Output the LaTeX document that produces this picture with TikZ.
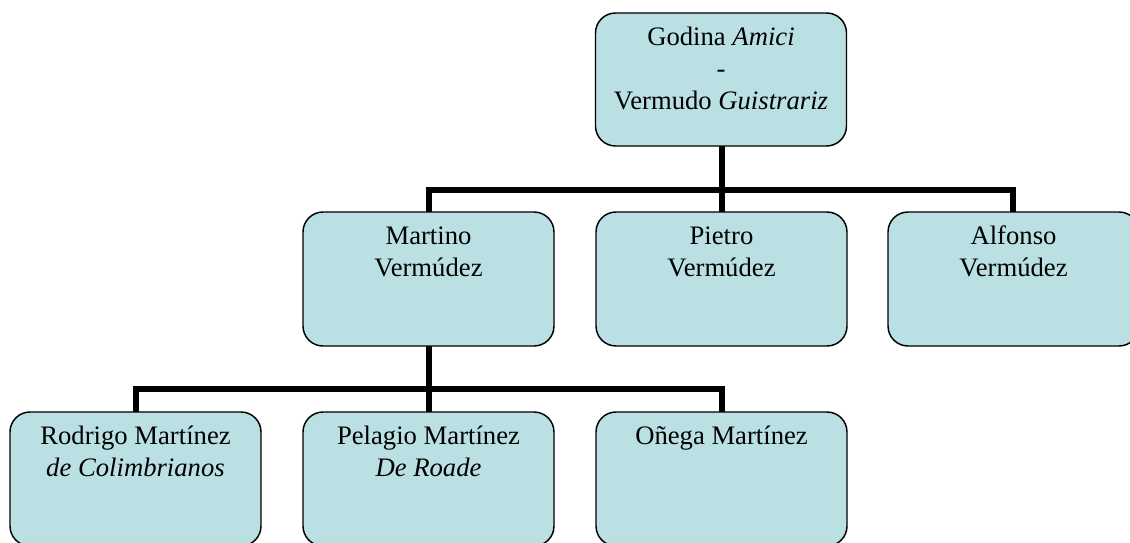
\documentclass[tikz,border=0pt]{standalone}
\usepackage{fontspec}
\setmainfont{Liberation Serif}
\usetikzlibrary{calc}
\definecolor{cardfill}{RGB}{186,224,227}
\begin{document}
\begin{tikzpicture}[x=0.75pt,y=-0.75pt,
  card/.style={draw=black,line width=1.1pt,fill=cardfill,rounded corners=15pt,
    minimum width=251*0.75pt,minimum height=134*0.75pt,inner sep=0pt},
  cardtext/.style={anchor=north,align=center,inner sep=0pt,
    font=\fontsize{20pt}{24pt}\selectfont},
  conn/.style={line width=4.6pt,line join=miter,line cap=butt}]
\useasboundingbox (0,0) rectangle (1130,542);
\clip (0,0) rectangle (1130,542);

% bus levels
\coordinate (bus1) at (0,190);
\coordinate (bus2) at (0,389);

% connectors (drawn first, boxes on top)
\coordinate (topS) at (722,146);
\coordinate (marS) at (429,345);
\draw[conn] (topS) -- (topS |- bus1) -| (429,212);
\draw[conn] (topS |- bus1) -- (722,212);
\draw[conn] (topS |- bus1) -| (1013,212);
\draw[conn] (marS) -- (marS |- bus2) -| (136,412);
\draw[conn] (marS |- bus2) -- (429,412);
\draw[conn] (marS |- bus2) -| (722,412);

% cards
\node[card,minimum height=133*0.75pt] (godina) at (721,79.5) {};
\node[card] (martino) at (428.5,279) {};
\node[card] (pietro) at (721.5,279) {};
\node[card] (alfonso) at (1013.5,279) {};
\node[card] (rodrigo) at (135.5,479) {};
\node[card] (pelagio) at (428.5,479) {};
\node[card] (onega) at (721.5,479) {};

% texts
\node[cardtext] (godinaT) at ($(godina.north)+(0,10.5)$)
  {\strut Godina \textit{Amici}\\-\\Vermudo \textit{Guistrariz}};
\node[cardtext] (martinoT) at ($(martino.north)+(0,11)$) {\strut Martino\\Vermúdez};
\node[cardtext] (pietroT) at ($(pietro.north)+(0,11)$) {\strut Pietro\\Vermúdez};
\node[cardtext] (alfonsoT) at ($(alfonso.north)+(0,11)$) {\strut Alfonso\\Vermúdez};
\node[cardtext] (rodrigoT) at ($(rodrigo.north)+(0,11)$) {\strut Rodrigo Martínez\\\textit{de Colimbrianos}};
\node[cardtext] (pelagioT) at ($(pelagio.north)+(0,11)$) {\strut Pelagio Martínez\\\textit{De Roade}};
\node[cardtext] (onegaT) at ($(onega.north)+(0,11)$) {\strut Oñega Martínez};
\end{tikzpicture}
\end{document}
